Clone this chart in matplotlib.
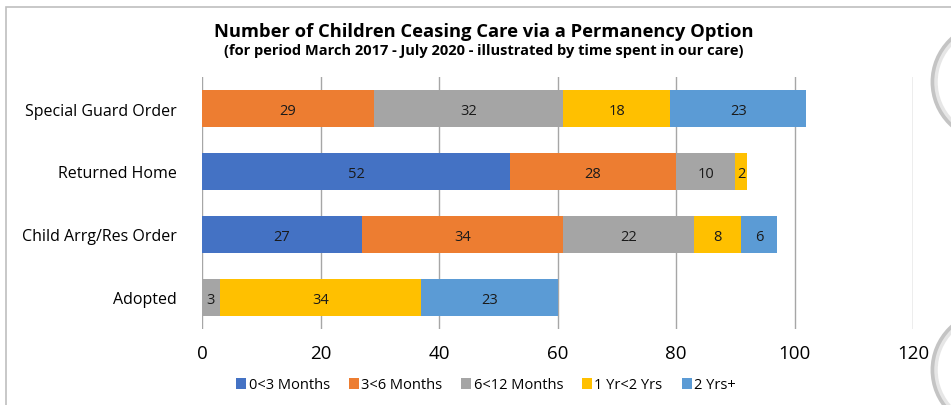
import matplotlib
matplotlib.use("Agg")
import matplotlib.pyplot as plt
from matplotlib.patches import Rectangle, Ellipse
import numpy as np

categories = ["Special Guard Order", "Returned Home", "Child Arrg/Res Order", "Adopted"]
series_names = ["0<3 Months", "3<6 Months", "6<12 Months", "1 Yr<2 Yrs", "2 Yrs+"]
m0_3 = [0, 52, 27, 0]
m3_6 = [29, 28, 34, 0]
m6_12 = [32, 10, 22, 3]
y1_2 = [18, 2, 8, 34]
y2_plus = [23, 0, 6, 23]
colors = ["#4472C4", "#ED7D31", "#A5A5A5", "#FFC000", "#5B9BD5"]
xticks = [0, 20, 40, 60, 80, 100, 120]

plt.rcParams['font.family'] = ['Open Sans', 'DejaVu Sans']

W, H = 951, 406
fig = plt.figure(figsize=(W / 100, H / 100), dpi=100)

# chart border
fig.patches.append(Rectangle((6 / W, -0.1), 1.2, 1 - 8 / H + 0.1, transform=fig.transFigure,
                             fill=False, edgecolor="#BFBFBF", linewidth=1.2))
# decorative partial circles at right edge
for cy in [83, 371]:
    fig.patches.append(Ellipse((991 / W, 1 - cy / H), 116 / W, 116 / H, transform=fig.transFigure,
                               fill=False, edgecolor="#C4C4C4", linewidth=3.5))
    fig.patches.append(Ellipse((991 / W, 1 - cy / H), 110 / W, 110 / H, transform=fig.transFigure,
                               fill=False, edgecolor="#E6E6E6", linewidth=2.5))

ax = fig.add_axes([202 / W, 1 - 330 / H, (913 - 202) / W, (330 - 78) / H])
series = [m0_3, m3_6, m6_12, y1_2, y2_plus]
y = np.arange(len(categories))
left = np.zeros(len(categories))
for name, vals, c in zip(series_names, series, colors):
    vals = np.array(vals, dtype=float)
    bars = ax.barh(y, vals, left=left, height=0.58, color=c, label=name, zorder=3)
    for b, v in zip(bars, vals):
        if v > 0:
            ax.text(b.get_x() + b.get_width() / 2, b.get_y() + b.get_height() / 2 + 0.03,
                    f"{int(v)}", ha="center", va="center", fontsize=10.5, color="#1a1a1a", zorder=4)
    left += vals

ax.set_xlim(0, 120)
ax.set_ylim(3.5, -0.5)
ax.set_xticks(xticks)
ax.set_xticklabels([str(t) for t in xticks], fontsize=13.5)
ax.tick_params(axis='x', length=0, pad=11)
ax.set_yticks(y)
ax.set_yticklabels(categories, fontsize=11.5)
ax.tick_params(axis='y', length=0, pad=18)
for s in ax.spines.values():
    s.set_visible(False)
ax.grid(axis='x', color="#A6A6A6", linewidth=1, zorder=0)
ax.set_axisbelow(True)

fig.text(484 / W, 1 - 32 / H, "Number of Children Ceasing Care via a Permanency Option",
         ha="center", va="center", fontsize=13.2, fontweight="bold")
fig.text(484 / W, 1 - 51 / H, "(for period March 2017 - July 2020 - illustrated by time spent in our care)",
         ha="center", va="center", fontsize=10.5, fontweight="bold")

leg = fig.legend(loc="center", bbox_to_anchor=(486 / W, 1 - 386 / H), ncol=5, frameon=False,
                 fontsize=10.5, handlelength=0.7, handleheight=0.7, handletextpad=0.15,
                 columnspacing=1.3)

fig.savefig("out.png", dpi=100)
